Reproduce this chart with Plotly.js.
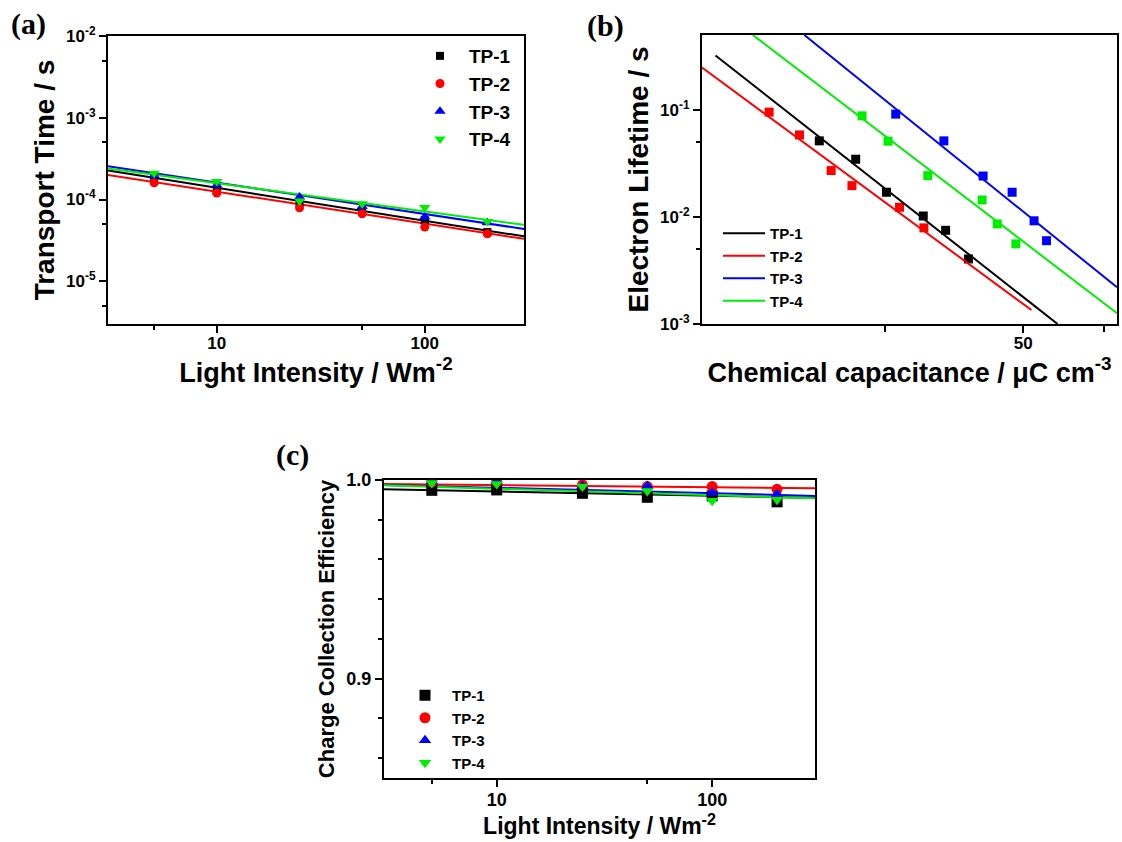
<!DOCTYPE html>
<html>
<head>
<meta charset="utf-8">
<script src="https://cdn.plot.ly/plotly-3.0.1.min.js"></script>
<style>html,body{margin:0;padding:0;background:#fff;}#chart{width:1122px;height:842px;}</style>
</head>
<body>
<div id="chart"></div>
<script>
// ---------- data ----------
const seriesNames = ['TP-1', 'TP-2', 'TP-3', 'TP-4'];
const seriesColors = ['#000000', '#ff0000', '#0000ff', '#00ee00'];
const seriesSymbols = ['square', 'circle', 'triangle-up', 'triangle-down'];

// (a) transport time vs light intensity
const intensity = [5, 10, 25, 50, 100, 200];
const transportTP1 = [1.8e-4, 1.27e-4, 9.1e-5, 7.2e-5, 5.6e-5, 4.0e-5];
const transportTP2 = [1.6e-4, 1.2e-4, 7.9e-5, 6.7e-5, 4.6e-5, 3.8e-5];
const transportTP3 = [1.95e-4, 1.5e-4, 1.07e-4, 8.2e-5, 6.1e-5, 5.2e-5];
const transportTP4 = [2.1e-4, 1.66e-4, 9.6e-5, 8.9e-5, 8.0e-5, 5.4e-5];
const transportFitX = [3, 300];
const transportFitTP1 = [2.26e-4, 3.54e-5];
const transportFitTP2 = [2.0e-4, 3.3e-5];
const transportFitTP3 = [2.55e-4, 4.36e-5];
const transportFitTP4 = [2.4e-4, 4.9e-5];

// (b) electron lifetime vs chemical capacitance
const capTP1 = [18.0, 21.6, 25.2, 30.3, 33.9, 38.0];
const lifeTP1 = [0.0513, 0.0346, 0.0170, 0.0102, 0.0075, 0.00405];
const capTP2 = [14.0, 16.3, 19.1, 21.2, 26.9, 30.4];
const lifeTP2 = [0.0952, 0.0583, 0.0271, 0.0196, 0.0123, 0.0079];
const capTP3 = [26.4, 33.6, 40.9, 47.3, 52.8, 56.2];
const lifeTP3 = [0.0912, 0.0513, 0.0241, 0.0170, 0.0092, 0.0060];
const capTP4 = [22.3, 25.4, 31.0, 40.7, 43.9, 48.2];
const lifeTP4 = [0.0879, 0.0510, 0.0243, 0.0144, 0.0086, 0.0056];
const lifeFitCapTP1 = [10.7, 59.4];
const lifeFitTP1 = [0.322, 0.001];
const lifeFitCapTP2 = [10, 52.1];
const lifeFitTP2 = [0.248, 0.00135];
const lifeFitCapTP3 = [16.7, 80];
const lifeFitTP3 = [0.5, 0.0022];
const lifeFitCapTP4 = [12.9, 80];
const lifeFitTP4 = [0.5, 0.00126];

// (c) charge collection efficiency vs light intensity
const effTP1 = [0.9948, 0.995, 0.9933, 0.9913, 0.992, 0.989];
const effTP2 = [0.999, 0.9993, 0.9975, 0.9967, 0.9967, 0.9953];
const effTP3 = [0.9993, 0.9995, 0.997, 0.997, 0.9936, 0.993];
const effTP4 = [0.9985, 0.998, 0.9967, 0.9945, 0.9895, 0.990];
const effFitX = [3, 300];
const effFitTP1 = [0.9953, 0.991];
const effFitTP2 = [0.998, 0.9958];
const effFitTP3 = [0.9975, 0.992];
const effFitTP4 = [0.9973, 0.9908];

// tick labels
const aYTicks = [1e-5, 1e-4, 1e-3, 1e-2];
const aYTickText = ['10<sup>-5</sup>', '10<sup>-4</sup>', '10<sup>-3</sup>', '10<sup>-2</sup>'];
const aYMinor = [5e-6, 5e-5, 5e-4, 5e-3];
const bYTicks = [1e-3, 1e-2, 1e-1];
const bYTickText = ['10<sup>-3</sup>', '10<sup>-2</sup>', '10<sup>-1</sup>'];
const bYMinor = [5e-3, 5e-2];
const bXTicks = [50];
const bXTickText = ['50'];
const bXMinor = [25, 75];
const intTicks = [10, 100];
const intTickText = ['10', '100'];
const intMinor = [5, 50];
const cYTicks = [0.9, 1.0];
const cYTickText = ['0.9', '1.0'];
const cYMinor = [0.86, 0.88, 0.92, 0.94, 0.96, 0.98];

// ---------- traces ----------
const transportData = [transportTP1, transportTP2, transportTP3, transportTP4];
const transportFits = [transportFitTP1, transportFitTP2, transportFitTP3, transportFitTP4];
const capData = [capTP1, capTP2, capTP3, capTP4];
const lifeData = [lifeTP1, lifeTP2, lifeTP3, lifeTP4];
const lifeFitCaps = [lifeFitCapTP1, lifeFitCapTP2, lifeFitCapTP3, lifeFitCapTP4];
const lifeFits = [lifeFitTP1, lifeFitTP2, lifeFitTP3, lifeFitTP4];
const effData = [effTP1, effTP2, effTP3, effTP4];
const effFits = [effFitTP1, effFitTP2, effFitTP3, effFitTP4];
const markerSizes = [8, 9, 10, 10];

const traces = [];
for (let i = 0; i < 4; i++) {
  traces.push({x: transportFitX, y: transportFits[i], mode: 'lines', xaxis: 'x', yaxis: 'y',
    line: {color: seriesColors[i], width: 2}, showlegend: false, hoverinfo: 'skip'});
}
for (let i = 0; i < 4; i++) {
  traces.push({x: intensity, y: transportData[i], mode: 'markers', name: seriesNames[i], xaxis: 'x', yaxis: 'y',
    legend: 'legend',
    marker: {color: seriesColors[i], symbol: seriesSymbols[i], size: markerSizes[i]}});
}
for (let i = 0; i < 4; i++) {
  traces.push({x: capData[i], y: lifeData[i], mode: 'markers', xaxis: 'x2', yaxis: 'y2',
    marker: {color: seriesColors[i], symbol: 'square', size: 9}, showlegend: false});
}
for (let i = 0; i < 4; i++) {
  traces.push({x: lifeFitCaps[i], y: lifeFits[i], mode: 'lines', name: seriesNames[i], xaxis: 'x2', yaxis: 'y2',
    legend: 'legend2', line: {color: seriesColors[i], width: 2}});
}
for (let i = 0; i < 4; i++) {
  traces.push({x: effFitX, y: effFits[i], mode: 'lines', xaxis: 'x3', yaxis: 'y3',
    line: {color: seriesColors[i], width: 2}, showlegend: false, hoverinfo: 'skip'});
}
for (let i = 0; i < 4; i++) {
  traces.push({x: intensity, y: effData[i], mode: 'markers', name: seriesNames[i], xaxis: 'x3', yaxis: 'y3',
    legend: 'legend3',
    marker: {color: seriesColors[i], symbol: seriesSymbols[i], size: 11}});
}

// ---------- layout ----------
const W = 1122, H = 842;
const px = v => v / W;
const py = v => 1 - v / H;
const tfont = s => ({family: 'Liberation Sans, Arial, sans-serif', size: s, color: '#000', weight: 'bold'});
const minorTicks = vals => ({tickmode: 'array', tickvals: vals, ticklen: 4, tickwidth: 2, tickcolor: '#000', ticks: 'outside'});

function axis(opts) {
  return Object.assign({
    showline: true, linecolor: '#000', linewidth: 2, mirror: true,
    ticks: 'outside', ticklen: 7, tickwidth: 2, tickcolor: '#000',
    showgrid: false, zeroline: false, fixedrange: true, automargin: false,
  }, opts);
}

const layout = {
  width: W, height: H,
  margin: {l: 0, r: 0, t: 0, b: 0},
  paper_bgcolor: '#fff', plot_bgcolor: '#fff',
  hovermode: false,
  font: {family: 'Liberation Sans, Arial, sans-serif', color: '#000'},
  // (a)
  xaxis: axis({domain: [px(108), px(524)], anchor: 'y', type: 'log', range: [Math.log10(3), Math.log10(300)],
    tickmode: 'array', tickvals: intTicks, ticktext: intTickText, tickfont: tfont(17), ticklabelstandoff: -4,
    minor: minorTicks(intMinor),
    title: {text: 'Light Intensity / Wm<sup>-2</sup>', font: tfont(27), standoff: 2}}),
  yaxis: axis({domain: [py(324), py(36)], anchor: 'x', type: 'log', range: [Math.log10(3e-6), -2],
    tickmode: 'array', tickvals: aYTicks, ticktext: aYTickText, tickfont: tfont(17),
    minor: minorTicks(aYMinor),
    title: {text: 'Transport Time / s', font: tfont(28), standoff: 3}}),
  // (b)
  xaxis2: axis({domain: [px(702), px(1117)], anchor: 'y2', type: 'log', range: [1, Math.log10(80)],
    tickmode: 'array', tickvals: bXTicks, ticktext: bXTickText, tickfont: tfont(17), ticklabelstandoff: -4,
    minor: Object.assign(minorTicks(bXMinor), {ticklen: 6}),
    title: {text: 'Chemical capacitance / μC cm<sup>-3</sup>', font: tfont(27), standoff: 0}}),
  yaxis2: axis({domain: [py(324), py(35)], anchor: 'x2', type: 'log', range: [-3, Math.log10(0.5)],
    tickmode: 'array', tickvals: bYTicks, ticktext: bYTickText, tickfont: tfont(17),
    minor: minorTicks(bYMinor),
    title: {text: 'Electron Lifetime / s', font: tfont(28), standoff: 3}}),
  // (c)
  xaxis3: axis({domain: [px(384), px(815)], anchor: 'y3', type: 'log', range: [Math.log10(3), Math.log10(300)],
    tickmode: 'array', tickvals: intTicks, ticktext: intTickText, tickfont: tfont(18), ticklabelstandoff: -3,
    minor: minorTicks(intMinor),
    title: {text: 'Light Intensity / Wm<sup>-2</sup>', font: tfont(23), standoff: 2}}),
  yaxis3: axis({domain: [py(778), py(480)], anchor: 'x3', range: [0.85, 1.0],
    tickmode: 'array', tickvals: cYTicks, ticktext: cYTickText, tickfont: tfont(18),
    minor: minorTicks(cYMinor),
    title: {text: 'Charge Collection Efficiency', font: tfont(22), standoff: 6}}),
  legend: {x: px(411), y: py(37), xanchor: 'left', yanchor: 'top', bgcolor: 'rgba(0,0,0,0)',
    font: tfont(19), tracegroupgap: 0, itemwidth: 48},
  legend2: {x: px(718), y: py(217), xanchor: 'left', yanchor: 'top', bgcolor: 'rgba(0,0,0,0)',
    font: tfont(15), tracegroupgap: 0, itemwidth: 42},
  legend3: {x: px(398), y: py(679), xanchor: 'left', yanchor: 'top', bgcolor: 'rgba(0,0,0,0)',
    font: tfont(15), tracegroupgap: 0, itemwidth: 44},
  annotations: [
    {text: '(a)', x: px(28), y: py(24), xref: 'paper', yref: 'paper', xanchor: 'center', yanchor: 'middle', showarrow: false,
      font: {family: 'Liberation Serif, Times New Roman, serif', size: 30, weight: 'bold', color: '#000'}},
    {text: '(b)', x: px(605), y: py(26), xref: 'paper', yref: 'paper', xanchor: 'center', yanchor: 'middle', showarrow: false,
      font: {family: 'Liberation Serif, Times New Roman, serif', size: 30, weight: 'bold', color: '#000'}},
    {text: '(c)', x: px(292), y: py(455), xref: 'paper', yref: 'paper', xanchor: 'center', yanchor: 'middle', showarrow: false,
      font: {family: 'Liberation Serif, Times New Roman, serif', size: 30, weight: 'bold', color: '#000'}}
  ]
};

Plotly.newPlot('chart', traces, layout, {displayModeBar: false, staticPlot: true});
</script>
</body>
</html>
